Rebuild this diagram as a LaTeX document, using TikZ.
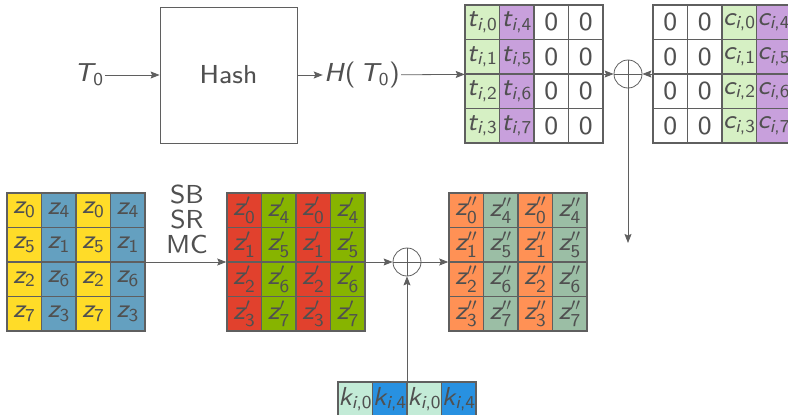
\documentclass[tikz,border=0pt]{standalone}
\usepackage{amsmath}
\usepackage{fontspec}
\setsansfont{lmsans8-regular.otf}[ItalicFont=lmsans8-oblique.otf]
\usetikzlibrary{arrows.meta,positioning}

\definecolor{linegray}{RGB}{95,95,95}
\definecolor{txtgray}{RGB}{80,80,80}
\definecolor{tgreen}{RGB}{214,240,196}
\definecolor{tpurple}{RGB}{200,160,220}
\definecolor{zyellow}{RGB}{255,220,40}
\definecolor{zblue}{RGB}{100,160,192}
\definecolor{zred}{RGB}{225,65,45}
\definecolor{zgreen}{RGB}{135,180,0}
\definecolor{zorange}{RGB}{255,145,85}
\definecolor{zsage}{RGB}{155,190,165}
\definecolor{klight}{RGB}{195,235,215}
\definecolor{kblue}{RGB}{40,145,225}

% sans italic variable: letter, primes, subscript
\newcommand{\vr}[3]{$\textit{#1}#2_{\text{#3}}$}

\begin{document}
\begin{tikzpicture}[->,>={Stealth[length=9pt,width=7pt,inset=1.5pt]},x=1pt,y=-1pt,line width=0.8pt,
                    color=linegray,text=txtgray,font=\fontsize{26}{25}\selectfont\sffamily]
  \tikzstyle{cell}=[draw=linegray,line width=1.2pt,minimum size=34.5pt,inner sep=0pt]
  \tikzstyle{frame}=[draw=linegray,line width=1.5pt,minimum size=138pt,inner sep=0pt]
  \tikzstyle{lbl}=[inner sep=1pt]
  \tikzstyle{xor}=[circle,draw=linegray,minimum size=28pt,inner sep=0pt,
                   path picture={\draw[-] (path picture bounding box.north) -- (path picture bounding box.south)
                                          (path picture bounding box.west) -- (path picture bounding box.east);}]

  \useasboundingbox (0,0) rectangle (788,415);

  % top row
  \node[lbl] (T0) at (89,75) {\vr{T}{}{0}};
  \node[draw,minimum width=137pt,minimum height=136pt] (hash) at (228.5,75) {Hash};
  \node[lbl] (HT0) at (362,75) {\textit{H}(\,\vr{T}{}{0})};

  \foreach \r/\b in {0/4,1/5,2/6,3/7} {
    \node[cell,fill=tgreen]  (t-\r-0) at (482.25,{22.25+34.5*\r}) {\vr{t}{}{\textit{i},\r}};
    \node[cell,fill=tpurple] (t-\r-1) at (516.75,{22.25+34.5*\r}) {\vr{t}{}{\textit{i},\b}};
    \node[cell]              (t-\r-2) at (551.25,{22.25+34.5*\r}) {0};
    \node[cell]              (t-\r-3) at (585.75,{22.25+34.5*\r}) {0};
    \node[cell]              (c-\r-0) at (670.25,{22.25+34.5*\r}) {0};
    \node[cell]              (c-\r-1) at (704.75,{22.25+34.5*\r}) {0};
    \node[cell,fill=tgreen]  (c-\r-2) at (739.25,{22.25+34.5*\r}) {\vr{c}{}{\textit{i},\r}};
    \node[cell,fill=tpurple] (c-\r-3) at (773.75,{22.25+34.5*\r}) {\vr{c}{}{\textit{i},\b}};
  }
  \node[frame] (tgrid) at (534.5,74) {};
  \node[frame] (cgrid) at (722,74) {};
  \node[xor] (x1) at (628,74) {};
  \coordinate (xdown) at (628,243);

  \draw (T0) -- (hash);
  \draw (hash) -- (HT0);
  \draw (HT0) -- (tgrid);
  \draw (tgrid) -- (x1);
  \draw (cgrid) -- (x1);
  \draw (x1) -- (xdown);

  % bottom row
  \foreach \r/\a/\b/\p/\q in {0/0/4/0/4,1/5/1/1/5,2/2/6/2/6,3/7/3/3/7} {
    \node[cell,fill=zyellow] (z-\r-0) at (24.25,{210.25+34.5*\r}) {\vr{z}{}{\a}};
    \node[cell,fill=zblue]   (z-\r-1) at (58.75,{210.25+34.5*\r}) {\vr{z}{}{\b}};
    \node[cell,fill=zyellow] (z-\r-2) at (93.25,{210.25+34.5*\r}) {\vr{z}{}{\a}};
    \node[cell,fill=zblue]   (z-\r-3) at (127.75,{210.25+34.5*\r}) {\vr{z}{}{\b}};
    \node[cell,fill=zred]    (zp-\r-0) at (244.25,{210.25+34.5*\r}) {\vr{z}{'}{\p}};
    \node[cell,fill=zgreen]  (zp-\r-1) at (278.75,{210.25+34.5*\r}) {\vr{z}{'}{\q}};
    \node[cell,fill=zred]    (zp-\r-2) at (313.25,{210.25+34.5*\r}) {\vr{z}{'}{\p}};
    \node[cell,fill=zgreen]  (zp-\r-3) at (347.75,{210.25+34.5*\r}) {\vr{z}{'}{\q}};
    \node[cell,fill=zorange] (zpp-\r-0) at (466.25,{210.25+34.5*\r}) {\vr{z}{''}{\p}};
    \node[cell,fill=zsage]   (zpp-\r-1) at (500.75,{210.25+34.5*\r}) {\vr{z}{''}{\q}};
    \node[cell,fill=zorange] (zpp-\r-2) at (535.25,{210.25+34.5*\r}) {\vr{z}{''}{\p}};
    \node[cell,fill=zsage]   (zpp-\r-3) at (569.75,{210.25+34.5*\r}) {\vr{z}{''}{\q}};
  }
  \node[frame] (zgrid) at (76,262) {};
  \node[frame] (zpgrid) at (296,262) {};
  \node[frame] (zppgrid) at (518,262) {};

  \foreach \c/\k/\col in {0/0/klight,1/4/kblue,2/0/klight,3/4/kblue}
    \node[cell,fill=\col] (k-\c) at ({355.25+34.5*\c},399.25) {\vr{k}{}{\textit{i},\k}};
  \node[frame,minimum height=34.5pt] (kgrid) at (407,399.25) {};

  \node[align=center,inner sep=0pt] (ops) at (187,219) {SB\\SR\\MC};
  \node[xor] (x2) at (407,262) {};

  \draw (zgrid) -- (zpgrid);
  \draw (zpgrid) -- (x2);
  \draw (kgrid) -- (x2);
  \draw (x2) -- (zppgrid);
\end{tikzpicture}
\end{document}
